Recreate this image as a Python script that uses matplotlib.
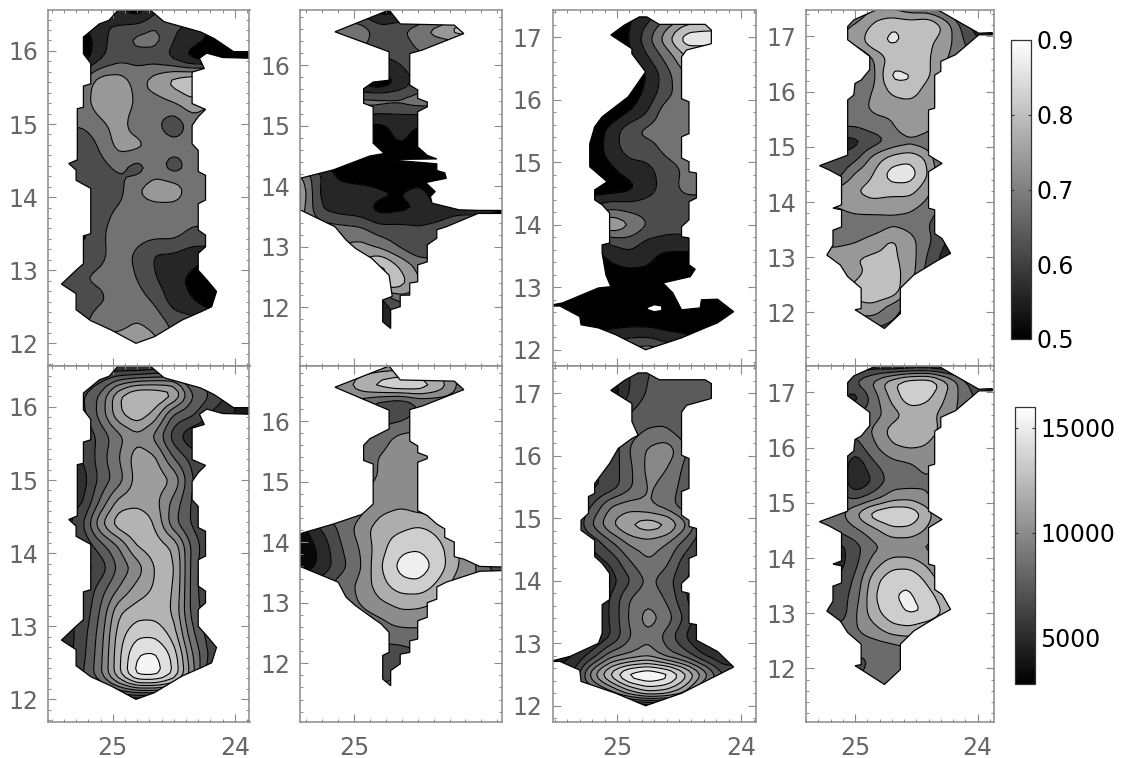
import numpy as np
import matplotlib
matplotlib.use("Agg")
import matplotlib.pyplot as plt
from matplotlib.patches import Polygon
from matplotlib.cm import ScalarMappable
from matplotlib.colors import Normalize
from matplotlib.ticker import MultipleLocator

# panel 1 grid
x1 = [25.45, 25.25, 25.1, 24.95, 24.8, 24.65, 24.5, 24.35, 24.2, 23.85]
y1 = [16.6, 16.2, 15.9, 15.6, 15.3, 15.0, 14.7, 14.4, 14.1, 13.8, 13.5, 13.2, 12.9, 12.6, 12.3, 11.95]
top1 = [
    [62, 62, 62, 55, 50, 58, 62, 62, 55, 52],
    [53, 51, 58, 63, 67, 68, 60, 58, 54, 50],
    [53, 51, 59, 63, 63, 62, 58, 52, 51, 50],
    [66, 66, 73, 73, 68, 73, 78, 81, 82, 82],
    [68, 68, 73, 74, 69, 68, 70, 74, 70, 70],
    [66, 66, 69, 72, 67, 66, 61, 67, 67, 67],
    [60, 60, 66, 72, 72, 68, 67, 67, 67, 67],
    [60, 62, 63, 66, 62, 67, 62, 67, 67, 67],
    [62, 62, 62, 63, 70, 74, 74, 67, 67, 67],
    [64, 64, 63, 66, 67, 67, 67, 67, 67, 67],
    [58, 58, 64, 68, 67, 67, 67, 64, 64, 64],
    [62, 62, 64, 67, 64, 59, 59, 57, 57, 57],
    [62, 65, 66, 67, 65, 60, 56, 54, 50, 50],
    [62, 63, 64, 67, 67, 64, 57, 55, 51, 51],
    [63, 63, 68, 68, 70, 68, 63, 62, 60, 60],
    [70, 70, 72, 73, 74, 72, 66, 66, 66, 66],
]
bot1 = [
    [45, 45, 45, 40, 35, 40, 45, 45, 45, 45],
    [70, 70, 85, 115, 130, 130, 125, 85, 75, 40],
    [68, 68, 88, 115, 125, 112, 80, 75, 60, 40],
    [62, 62, 75, 90, 102, 90, 65, 50, 50, 50],
    [60, 60, 78, 94, 112, 108, 82, 68, 60, 60],
    [55, 55, 75, 88, 110, 112, 105, 72, 60, 60],
    [58, 58, 85, 110, 112, 108, 90, 70, 60, 60],
    [50, 70, 105, 125, 128, 115, 85, 70, 60, 60],
    [62, 62, 78, 94, 118, 122, 115, 80, 62, 62],
    [55, 55, 64, 85, 98, 118, 120, 78, 60, 60],
    [60, 60, 78, 95, 110, 118, 118, 78, 60, 60],
    [62, 62, 84, 115, 122, 122, 115, 78, 65, 65],
    [50, 66, 88, 122, 135, 135, 122, 85, 65, 65],
    [50, 68, 90, 125, 150, 152, 135, 95, 68, 68],
    [70, 70, 92, 125, 155, 155, 138, 100, 60, 60],
    [40, 40, 40, 40, 35, 35, 40, 40, 40, 40],
]
outline1_x = [24.95, 25.03, 25.11, 25.24, 25.24, 25.18, 25.18, 25.24, 25.24, 25.29, 25.29, 25.36, 25.30, 25.30, 25.18,
              25.18, 25.24, 25.24, 25.30, 25.42, 25.30, 25.30, 25.18, 25.01, 24.81, 24.66, 24.43, 24.28, 24.19, 24.15,
              24.23, 24.30, 24.30, 24.24, 24.24, 24.30, 24.30, 24.24, 24.24, 24.30, 24.30, 24.35, 24.35, 24.30, 24.24,
              24.35, 24.35, 24.25, 24.29, 24.23, 24.10, 23.87, 23.87, 24.01, 24.17, 24.28, 24.58, 24.70]
outline1_y = [16.57, 16.42, 16.37, 16.19, 15.96, 15.83, 15.55, 15.52, 15.23, 15.21, 14.51, 14.46, 14.37, 14.23, 14.12,
              13.50, 13.47, 13.09, 13.00, 12.81, 12.68, 12.46, 12.31, 12.18, 12.00, 12.09, 12.32, 12.43, 12.50, 12.71,
              12.87, 13.00, 13.23, 13.32, 13.48, 13.55, 13.91, 13.96, 14.30, 14.35, 14.64, 14.73, 14.98, 15.10, 15.20,
              15.28, 15.71, 15.76, 15.90, 15.97, 15.91, 15.90, 15.99, 15.99, 16.17, 16.26, 16.40, 16.57]

# panel 2 grid
x2 = [25.36, 25.21, 25.09, 24.96, 24.84, 24.71, 24.59, 24.46, 24.34, 24.21, 24.05]
y2 = [17.0, 16.6, 16.3, 16.0, 15.7, 15.4, 15.1, 14.8, 14.5, 14.2, 13.9, 13.6, 13.3, 13.0, 12.7, 12.4, 12.1, 11.5]
top2 = [
    [55, 55, 55, 52, 50, 50, 50, 52, 55, 55, 55],
    [70, 70, 69, 69, 62, 64, 69, 74, 80, 80, 70],
    [66, 66, 66, 66, 62, 62, 66, 66, 65, 65, 65],
    [63, 63, 63, 63, 58, 60, 63, 63, 63, 63, 63],
    [53, 53, 53, 53, 50, 56, 62, 62, 62, 62, 62],
    [68, 68, 68, 68, 68, 67, 68, 68, 67, 67, 67],
    [60, 60, 60, 57, 56, 57, 57, 58, 58, 58, 58],
    [51, 51, 51, 51, 51, 57, 52, 51, 51, 51, 51],
    [51, 51, 51, 51, 51, 51, 51, 51, 51, 51, 51],
    [72, 60, 53, 51, 51, 51, 51, 51, 51, 51, 51],
    [78, 58, 58, 58, 56, 55, 57, 52, 52, 52, 52],
    [75, 60, 58, 57, 53, 54, 55, 57, 58, 58, 50],
    [70, 68, 67, 66, 62, 62, 61, 62, 66, 66, 66],
    [70, 70, 70, 72, 69, 64, 60, 67, 67, 67, 67],
    [75, 75, 75, 75, 82, 74, 68, 64, 64, 64, 64],
    [78, 78, 78, 78, 82, 78, 70, 70, 70, 70, 70],
    [58, 58, 58, 58, 56, 66, 66, 66, 66, 66, 66],
    [55, 55, 55, 55, 55, 55, 55, 55, 55, 55, 55],
]
bot2 = [
    [85, 85, 85, 85, 85, 85, 85, 85, 85, 85, 85],
    [85, 85, 100, 125, 140, 150, 145, 125, 90, 85, 85],
    [85, 85, 85, 85, 70, 60, 78, 80, 85, 85, 85],
    [85, 85, 85, 85, 72, 76, 85, 85, 85, 85, 85],
    [85, 85, 85, 85, 85, 102, 102, 102, 100, 100, 100],
    [85, 85, 85, 85, 95, 104, 104, 95, 95, 95, 95],
    [85, 85, 85, 85, 95, 104, 106, 105, 105, 105, 105],
    [85, 85, 85, 90, 102, 105, 105, 100, 100, 100, 100],
    [85, 85, 85, 90, 108, 112, 108, 105, 100, 100, 100],
    [30, 60, 80, 102, 120, 125, 132, 122, 100, 90, 90],
    [28, 48, 75, 95, 120, 140, 142, 132, 110, 95, 90],
    [28, 48, 70, 92, 125, 150, 155, 135, 110, 90, 50],
    [60, 70, 85, 98, 120, 138, 140, 122, 100, 95, 95],
    [85, 85, 85, 95, 108, 116, 116, 110, 95, 90, 90],
    [85, 85, 85, 85, 90, 102, 100, 90, 90, 90, 90],
    [85, 85, 85, 85, 85, 80, 85, 85, 85, 85, 85],
    [75, 75, 75, 75, 58, 72, 72, 72, 72, 72, 72],
    [85, 85, 85, 85, 85, 85, 85, 85, 85, 85, 85],
]
top_outline2_x = [24.78, 25.12, 24.78, 24.78, 24.88, 24.94, 24.94, 24.88, 24.88, 24.81, 24.90, 25.13, 25.34, 25.34, 25.12,
                  25.05, 24.99, 24.89, 24.78, 24.76, 24.82, 24.82, 24.77, 24.77, 24.71, 24.71, 24.65, 24.65, 24.60, 24.60,
                  24.54, 24.54, 24.48, 24.48, 24.42, 24.22, 24.07, 24.07, 24.21, 24.34, 24.51, 24.52, 24.49, 24.55, 24.42,
                  24.43, 24.48, 24.48, 24.80, 24.48, 24.54, 24.60, 24.60, 24.54, 24.54, 24.60, 24.60, 24.65, 24.65, 24.57,
                  24.31, 24.37, 24.71]
top_outline2_y = [16.91, 16.55, 16.22, 15.75, 15.72, 15.61, 15.37, 15.31, 14.71, 14.54, 14.50, 14.27, 14.13, 13.61, 13.33,
                  13.11, 12.97, 12.81, 12.53, 12.18, 12.12, 11.76, 11.65, 11.96, 12.01, 12.20, 12.20, 12.40, 12.42, 12.70,
                  12.75, 13.03, 13.14, 13.28, 13.33, 13.55, 13.55, 13.60, 13.60, 13.61, 13.72, 13.83, 13.91, 14.06, 14.13,
                  14.22, 14.26, 14.37, 14.44, 14.45, 14.51, 14.65, 15.23, 15.31, 15.39, 15.45, 15.59, 15.67, 16.19, 16.25,
                  16.52, 16.66, 16.68]
bot_outline2_x = [24.78, 25.12, 24.78, 24.78, 24.90, 24.94, 24.94, 24.88, 24.88, 24.95, 25.13, 25.34, 25.34, 25.10, 25.05,
                  24.99, 24.89, 24.83, 24.78, 24.78, 24.82, 24.82, 24.77, 24.77, 24.71, 24.71, 24.65, 24.65, 24.60, 24.60,
                  24.54, 24.54, 24.48, 24.48, 24.42, 24.21, 24.07, 24.07, 24.21, 24.31, 24.37, 24.37, 24.43, 24.43, 24.48,
                  24.54, 24.60, 24.60, 24.54, 24.54, 24.60, 24.60, 24.65, 24.65, 24.57, 24.31, 24.37, 24.71]
bot_outline2_y = [16.91, 16.56, 16.18, 15.87, 15.71, 15.60, 15.35, 15.29, 14.63, 14.46, 14.30, 14.14, 13.60, 13.34, 13.09,
                  12.95, 12.76, 12.65, 12.51, 12.18, 12.13, 11.74, 11.63, 11.88, 11.99, 12.15, 12.18, 12.37, 12.40, 12.70,
                  12.76, 13.00, 13.06, 13.26, 13.34, 13.52, 13.53, 13.59, 13.60, 13.72, 13.76, 14.00, 14.08, 14.22, 14.30,
                  14.44, 14.52, 15.32, 15.38, 15.42, 15.48, 15.59, 15.67, 16.19, 16.25, 16.52, 16.66, 16.68]

# panel 3 grid
x3 = [25.55, 25.35, 25.2, 25.05, 24.9, 24.75, 24.6, 24.45, 24.3, 24.15, 24.0]
y3 = [17.4, 17.0, 16.7, 16.4, 16.1, 15.8, 15.5, 15.2, 14.9, 14.6, 14.3, 14.0, 13.7, 13.4, 13.1, 12.8, 12.5, 12.2, 11.95]
top3 = [
    [51, 51, 51, 51, 54, 57, 62, 66, 70, 70, 70],
    [51, 51, 51, 51, 55, 64, 74, 84, 84, 84, 84],
    [51, 51, 51, 51, 54, 60, 67, 75, 75, 75, 75],
    [51, 51, 51, 51, 51, 55, 63, 70, 70, 70, 70],
    [51, 51, 51, 51, 51, 57, 63, 69, 69, 69, 69],
    [51, 51, 51, 51, 55, 60, 69, 70, 70, 70, 70],
    [51, 51, 51, 57, 64, 67, 68, 70, 70, 70, 70],
    [51, 51, 51, 58, 62, 62, 67, 70, 70, 70, 70],
    [51, 51, 51, 54, 58, 59, 62, 66, 66, 66, 66],
    [51, 51, 51, 51, 53, 58, 62, 67, 67, 67, 67],
    [60, 60, 60, 63, 62, 62, 62, 62, 62, 62, 62],
    [66, 66, 68, 76, 71, 65, 62, 62, 62, 62, 62],
    [55, 55, 55, 60, 62, 58, 58, 58, 58, 58, 58],
    [51, 51, 51, 55, 57, 56, 51, 51, 51, 51, 51],
    [51, 51, 51, 51, 51, 51, 51, 51, 51, 51, 51],
    [51, 51, 51, 51, 51, 51, 51, 51, 51, 51, 51],
    [51, 51, 51, 51, 51, 51, 51, 51, 51, 51, 51],
    [51, 51, 57, 58, 60, 60, 57, 56, 54, 51, 51],
    [60, 60, 60, 63, 66, 70, 66, 60, 60, 60, 60],
]
bot3 = [
    [55, 55, 55, 55, 60, 72, 75, 80, 85, 85, 85],
    [38, 38, 38, 38, 62, 74, 74, 74, 74, 74, 74],
    [60, 60, 60, 60, 72, 78, 80, 75, 70, 70, 70],
    [70, 70, 70, 70, 78, 84, 84, 76, 72, 72, 72],
    [60, 60, 60, 62, 84, 96, 102, 85, 70, 70, 70],
    [60, 60, 60, 65, 80, 98, 95, 80, 65, 65, 65],
    [60, 60, 58, 65, 80, 96, 90, 78, 62, 62, 62],
    [60, 60, 72, 95, 100, 95, 88, 75, 70, 70, 70],
    [60, 60, 85, 105, 118, 125, 120, 98, 70, 70, 70],
    [60, 60, 62, 80, 96, 100, 94, 78, 60, 60, 60],
    [60, 60, 55, 62, 82, 94, 86, 65, 60, 60, 60],
    [48, 48, 48, 55, 70, 86, 76, 62, 48, 48, 48],
    [48, 48, 48, 62, 84, 92, 82, 62, 48, 48, 48],
    [48, 48, 48, 62, 85, 100, 90, 70, 48, 48, 48],
    [48, 48, 48, 60, 82, 92, 78, 60, 45, 48, 48],
    [38, 50, 65, 90, 95, 102, 88, 78, 60, 50, 50],
    [60, 60, 105, 135, 160, 165, 160, 135, 105, 72, 72],
    [65, 65, 70, 88, 110, 125, 120, 104, 70, 70, 70],
    [35, 35, 35, 35, 35, 35, 35, 35, 35, 35, 35],
]
top_outline3_x = [24.82, 24.76, 24.66, 24.29, 24.24, 24.24, 24.44, 24.48, 24.48, 24.42, 24.42, 24.48, 24.48, 24.42, 24.42,
                  24.36, 24.36, 24.42, 24.42, 24.48, 24.48, 24.42, 24.42, 24.37, 24.41, 24.63, 24.55, 24.48, 24.33, 24.32,
                  24.19, 24.06, 24.19, 24.29, 24.48, 24.77, 25.01, 25.15, 25.29, 25.30, 25.46, 25.52, 25.52, 25.44, 25.15,
                  25.05, 25.09, 25.12, 25.12, 25.06, 25.06, 25.12, 25.18, 25.18, 25.08, 25.22, 25.22, 25.18, 25.12, 24.91,
                  24.77, 24.88, 24.88, 25.05, 24.94]
top_outline3_y = [17.33, 17.33, 17.21, 17.21, 17.12, 16.90, 16.80, 16.69, 16.02, 15.97, 15.46, 15.41, 15.07, 15.01, 14.85,
                  14.83, 14.43, 14.37, 14.08, 13.97, 13.81, 13.79, 13.36, 13.29, 13.17, 13.07, 12.91, 12.64, 12.67, 12.80,
                  12.81, 12.61, 12.43, 12.35, 12.19, 12.00, 12.24, 12.35, 12.40, 12.53, 12.70, 12.70, 12.72, 12.75, 12.99,
                  13.01, 13.20, 13.55, 13.68, 13.71, 14.19, 14.32, 14.40, 14.56, 14.69, 14.93, 15.30, 15.57, 15.73, 16.05,
                  16.45, 16.74, 16.82, 17.04, 17.20]
hole3_x = [24.75, 24.70, 24.64, 24.64, 24.70, 24.76]
hole3_y = [12.68, 12.72, 12.70, 12.63, 12.61, 12.65]
bot_outline3_x = [24.83, 24.76, 24.66, 24.29, 24.24, 24.24, 24.44, 24.48, 24.48, 24.42, 24.42, 24.48, 24.48, 24.42, 24.42,
                  24.36, 24.36, 24.42, 24.42, 24.48, 24.48, 24.42, 24.42, 24.36, 24.36, 24.19, 24.06, 24.48, 24.77, 25.01,
                  25.29, 25.30, 25.46, 25.52, 25.52, 25.38, 25.15, 25.12, 25.12, 25.06, 25.06, 25.12, 25.18, 25.18, 25.29,
                  25.29, 25.23, 25.23, 25.18, 25.18, 25.12, 25.06, 24.99, 24.88, 24.83, 24.88, 24.88, 25.05, 24.94]
bot_outline3_y = [17.33, 17.33, 17.22, 17.22, 17.16, 16.92, 16.81, 16.70, 16.01, 15.96, 15.48, 15.43, 15.05, 14.97, 14.87,
                  14.84, 14.41, 14.36, 14.07, 13.96, 13.83, 13.80, 13.32, 13.30, 13.05, 12.87, 12.62, 12.20, 12.00, 12.20,
                  12.39, 12.57, 12.71, 12.71, 12.72, 12.79, 13.00, 13.16, 13.62, 13.70, 14.12, 14.28, 14.39, 14.65, 14.81,
                  14.97, 15.08, 15.35, 15.40, 15.56, 15.72, 15.88, 16.12, 16.28, 16.33, 16.55, 16.84, 17.05, 17.21]

# panel 4 grid
x4 = [25.35, 25.15, 25.0, 24.85, 24.7, 24.55, 24.4, 24.25, 24.1, 23.85]
y4 = [17.55, 17.2, 16.9, 16.6, 16.3, 16.0, 15.7, 15.4, 15.1, 14.8, 14.5, 14.2, 13.9, 13.6, 13.3, 13.0, 12.7, 12.4, 12.1, 11.6]
top4 = [
    [60, 60, 62, 70, 68, 65, 64, 60, 55, 50],
    [68, 68, 71, 76, 80, 79, 81, 73, 62, 50],
    [70, 70, 72, 79, 81, 79, 76, 72, 65, 55],
    [66, 66, 62, 70, 77, 74, 76, 70, 66, 66],
    [66, 66, 66, 68, 82, 81, 76, 68, 66, 66],
    [70, 70, 68, 70, 76, 78, 72, 66, 66, 66],
    [72, 72, 68, 71, 72, 72, 71, 68, 68, 68],
    [66, 66, 66, 68, 69, 77, 73, 66, 66, 66],
    [58, 58, 58, 62, 66, 68, 66, 58, 58, 58],
    [60, 60, 63, 72, 77, 79, 74, 59, 57, 57],
    [60, 62, 71, 75, 83, 83, 75, 63, 63, 63],
    [72, 72, 75, 77, 77, 77, 71, 64, 64, 64],
    [70, 70, 72, 73, 71, 71, 68, 62, 58, 58],
    [66, 66, 67, 66, 69, 68, 65, 61, 58, 58],
    [68, 68, 69, 72, 76, 72, 66, 60, 55, 55],
    [73, 73, 75, 76, 76, 73, 64, 57, 51, 51],
    [72, 72, 74, 76, 77, 73, 62, 58, 58, 58],
    [72, 74, 76, 80, 80, 69, 60, 60, 60, 60],
    [72, 72, 74, 74, 68, 62, 62, 62, 62, 62],
    [62, 62, 62, 62, 62, 62, 62, 62, 62, 62],
]
bot4 = [
    [40, 40, 40, 40, 25, 25, 25, 25, 40, 40],
    [60, 60, 80, 98, 125, 142, 145, 115, 80, 45],
    [70, 70, 50, 85, 115, 140, 130, 108, 85, 60],
    [85, 85, 80, 85, 103, 115, 116, 102, 85, 85],
    [85, 85, 80, 97, 118, 125, 120, 102, 85, 85],
    [85, 85, 68, 90, 108, 112, 108, 85, 85, 85],
    [85, 85, 46, 75, 88, 92, 102, 85, 75, 75],
    [85, 85, 40, 62, 85, 85, 92, 78, 75, 75],
    [85, 85, 72, 85, 102, 105, 95, 80, 75, 75],
    [75, 85, 110, 138, 146, 142, 118, 85, 85, 85],
    [75, 80, 90, 104, 122, 122, 107, 85, 85, 85],
    [60, 52, 70, 90, 96, 96, 90, 85, 85, 85],
    [48, 52, 72, 102, 120, 120, 106, 85, 85, 85],
    [48, 60, 80, 120, 140, 142, 122, 95, 85, 85],
    [65, 65, 85, 125, 143, 146, 136, 112, 90, 90],
    [60, 60, 92, 120, 138, 146, 143, 122, 100, 100],
    [85, 85, 92, 104, 120, 122, 110, 95, 85, 85],
    [75, 75, 85, 85, 88, 95, 85, 85, 85, 85],
    [78, 78, 70, 80, 85, 85, 85, 85, 85, 85],
    [85, 85, 85, 85, 85, 85, 85, 85, 85, 85],
]
outline4_x = [24.82, 24.33, 23.99, 23.88, 23.88, 23.99, 24.18, 24.30, 24.30, 24.35, 24.35, 24.40, 24.40, 24.29, 24.40,
              24.40, 24.35, 24.35, 24.29, 24.22, 24.32, 24.52, 24.63, 24.63, 24.76, 24.95, 25.00, 24.95, 24.95, 25.06,
              25.12, 25.23, 25.18, 25.18, 25.11, 25.11, 25.18, 25.11, 25.11, 25.21, 25.29, 25.06, 25.06, 25.01, 25.00,
              24.95, 24.88, 24.88, 25.06, 25.06, 25.01]
outline4_y = [17.49, 17.49, 17.06, 17.07, 17.03, 17.03, 16.67, 16.55, 16.37, 16.30, 15.70, 15.67, 14.85, 14.70, 14.55,
              13.89, 13.86, 13.43, 13.34, 13.07, 12.95, 12.68, 12.44, 11.98, 11.71, 11.98, 12.05, 12.07, 12.44, 12.65,
              12.86, 13.04, 13.22, 13.49, 13.55, 13.86, 13.89, 13.95, 14.46, 14.58, 14.66, 14.85, 15.85, 15.94, 16.15,
              16.21, 16.40, 16.64, 16.94, 17.18, 17.30]

cb1_ticks = [0.5, 0.6, 0.7, 0.8, 0.9]
cb2_ticks = [5000, 10000, 15000]
top_levels = [0.5, 0.55, 0.6, 0.65, 0.7, 0.75, 0.8, 0.85, 0.9]
fine_levels = np.arange(2800, 16001, 1100)
coarse_levels = np.arange(2800, 16001, 1650)

W, H = 1123, 758
GREY = "#8a8a8a"
TXT = "#666666"
plt.rcParams["font.family"] = "DejaVu Sans"
fig = plt.figure(figsize=(W / 100, H / 100), dpi=100)


def make_ax(x0, x1_, y0, y1_):
    return fig.add_axes([x0 / W, 1 - y1_ / H, (x1_ - x0) / W, (y1_ - y0) / H])


def soften(xs, ys, z, n=5):
    # resample the hand read grid, then blur a bit so the contour lines are not angular
    ix = np.linspace(0, len(xs) - 1, (len(xs) - 1) * n + 1)
    iy = np.linspace(0, len(ys) - 1, (len(ys) - 1) * n + 1)
    fx = np.interp(ix, np.arange(len(xs)), xs)
    fy = np.interp(iy, np.arange(len(ys)), ys)
    fine = np.array([np.interp(ix, np.arange(len(xs)), r) for r in z])
    fine = np.array([np.interp(iy, np.arange(len(ys)), c) for c in fine.T]).T
    k = np.array([1, 2, 3, 2, 1]) / 9
    fine = np.apply_along_axis(lambda v: np.convolve(np.pad(v, 2, mode="edge"), k, mode="valid"), 0, fine)
    fine = np.apply_along_axis(lambda v: np.convolve(np.pad(v, 2, mode="edge"), k, mode="valid"), 1, fine)
    return fx, fy, fine


def panel(box, xlim, ylim, xs, ys, vals, scale, levels, vmin, vmax, ox, oy, ymin, labels):
    ax = make_ax(*box)
    fx, fy, z = soften(xs, ys, np.array(vals, dtype=float) * scale)
    cs = ax.contourf(fx, fy, z, levels=levels, cmap="gray", vmin=vmin, vmax=vmax, extend="both")
    ln = ax.contour(fx, fy, z, levels=levels, colors="k", linewidths=0.8)
    shape = Polygon(np.column_stack([ox, oy]), closed=True, fc="none", ec="k", lw=0.9, zorder=5,
                    transform=ax.transData)
    ax.add_patch(shape)
    cs.set_clip_path(shape)
    ln.set_clip_path(shape)
    ax.set_xlim(*xlim)
    ax.set_ylim(*ylim)
    ax.set_xticks([t for t in (25, 24) if xlim[1] <= t <= xlim[0]])
    ax.xaxis.set_minor_locator(MultipleLocator(0.1))
    ax.yaxis.set_major_locator(MultipleLocator(1))
    ax.yaxis.set_minor_locator(MultipleLocator(ymin))
    ax.tick_params(which="major", direction="in", length=5.5, width=0.8, color=GREY, top=True, right=True,
                   labelsize=17, labelcolor=TXT, labelbottom=labels)
    ax.tick_params(axis="y", which="major", pad=7)
    ax.tick_params(axis="x", which="major", pad=10)
    ax.tick_params(which="minor", direction="in", length=2.2, width=0.7, color=GREY, top=True, right=True)
    for s in ax.spines.values():
        s.set_color(GREY)
        s.set_linewidth(1.1)
        s.set_zorder(6)
    return ax


boxes = [(48, 249.5), (300, 502), (552.5, 756), (806, 993.5)]
xlims = [(25.53, 23.88), (25.34, 24.07), (25.52, 23.88), (25.40, 23.87)]
ylims = [(11.69, 16.56), (11.03, 16.91), (11.74, 17.44), (11.03, 17.48)]
yminor = [1 / 7, 0.2, 0.2, 0.2]
grids = [(x1, y1), (x2, y2), (x3, y3), (x4, y4)]
tops = [top1, top2, top3, top4]
bots = [bot1, bot2, bot3, bot4]
top_shapes = [(outline1_x, outline1_y), (top_outline2_x, top_outline2_y), (top_outline3_x, top_outline3_y), (outline4_x, outline4_y)]
bot_shapes = [(outline1_x, outline1_y), (bot_outline2_x, bot_outline2_y), (bot_outline3_x, bot_outline3_y), (outline4_x, outline4_y)]
bot_levels = [fine_levels, coarse_levels, fine_levels, coarse_levels]

for i in range(4):
    xs, ys = grids[i]
    ax = panel((boxes[i][0], boxes[i][1], 10, 366), xlims[i], ylims[i], xs, ys, tops[i], 0.01, top_levels, 0.525, 0.86,
               top_shapes[i][0], top_shapes[i][1], yminor[i], False)
    if i == 2:
        ax.add_patch(Polygon(np.column_stack([hole3_x, hole3_y]), closed=True, fc="w", ec="k", lw=0.8, zorder=5))
    panel((boxes[i][0], boxes[i][1], 366, 722), xlims[i], ylims[i], xs, ys, bots[i], 100, bot_levels[i], 3200, 16000,
          bot_shapes[i][0], bot_shapes[i][1], yminor[i], True)

for box, lims, ticks in [((1011, 1031, 40, 339), (0.5, 0.9), cb1_ticks), ((1015, 1035, 407, 684), (2800, 16000), cb2_ticks)]:
    cax = make_ax(*box)
    cb = fig.colorbar(ScalarMappable(Normalize(*lims), "gray"), cax=cax, ticks=ticks)
    cb.ax.tick_params(direction="in", length=2.5, width=0.8, labelsize=17, pad=4, color="#333333", left=True, right=True)
    cb.outline.set_edgecolor("#333333")
    cb.outline.set_linewidth(0.9)

fig.savefig("out.png", dpi=100)
